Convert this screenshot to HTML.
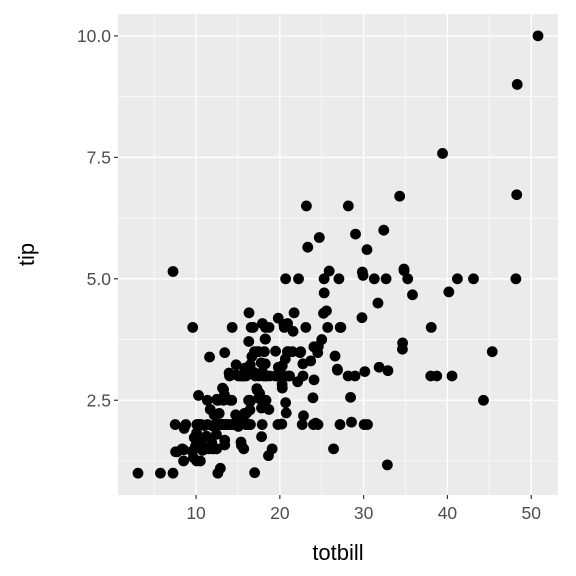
<!DOCTYPE html>
<html><head><meta charset="utf-8"><style>
body{margin:0;background:#fff}
svg{display:block}
text{font-family:"Liberation Sans",sans-serif}
</style></head><body>
<svg id="chart" width="576" height="576"></svg>
<script>
const totbill=[16.99,10.34,21.01,23.68,24.59,25.29,8.77,26.88,15.04,14.78,10.27,35.26,15.42,18.43,14.83,21.58,10.33,16.29,16.97,20.65,17.92,20.29,15.77,39.42,19.82,17.81,13.37,12.69,21.7,19.65,9.55,18.35,15.06,20.69,17.78,24.06,16.31,16.93,18.69,31.27,16.04,17.46,13.94,9.68,30.4,18.29,22.23,32.4,28.55,18.04,12.54,10.29,34.81,9.94,25.56,19.49,38.01,26.41,11.24,48.27,20.29,13.81,11.02,18.29,17.59,20.08,16.45,3.07,20.23,15.01,12.02,17.07,26.86,25.28,14.73,10.51,17.92,27.2,22.76,17.29,19.44,16.66,10.07,32.68,15.98,34.83,13.03,18.28,24.71,21.16,28.97,22.49,5.75,16.32,22.75,40.17,27.28,12.03,21.01,12.46,11.35,15.38,44.3,22.42,20.92,15.36,20.49,25.21,18.24,14.31,14.0,7.25,38.07,23.95,25.71,17.31,29.93,10.65,12.43,24.08,11.69,13.42,14.26,15.95,12.48,29.8,8.52,14.52,11.38,22.82,19.08,20.27,11.17,12.26,18.26,8.51,10.33,14.15,16.0,13.16,17.47,34.3,41.19,27.05,16.43,8.35,18.64,11.87,9.78,7.51,14.07,13.13,17.26,24.55,19.77,29.85,48.17,25.0,13.39,16.49,21.5,12.66,16.21,13.81,17.51,24.52,20.76,31.71,10.59,10.63,50.81,15.81,7.25,31.85,16.82,32.9,17.89,14.48,9.6,34.63,34.65,23.33,45.35,23.17,40.55,20.69,20.9,30.46,18.15,23.1,15.69,19.81,28.44,15.48,16.58,7.56,10.34,43.11,13.0,13.51,18.71,12.74,13.0,16.4,20.53,16.47,26.59,38.73,24.27,12.76,30.06,25.89,48.33,13.27,28.17,12.9,28.15,11.59,7.74,30.14,12.16,13.42,8.58,15.98,13.42,16.27,10.09,20.45,13.28,22.12,24.01,15.69,11.61,10.77,15.53,10.07,12.6,32.83,35.83,29.03,27.18,22.67,17.82,18.78];
const tip=[1.01,1.66,3.5,3.31,3.61,4.71,2.0,3.12,1.96,3.23,1.71,5.0,1.57,3.0,3.02,3.92,1.67,3.71,3.5,3.35,4.08,2.75,2.23,7.58,3.18,2.34,2.0,2.0,4.3,3.0,1.45,2.5,3.0,2.45,3.27,3.6,2.0,3.07,2.31,5.0,2.24,2.54,3.06,1.32,5.6,3.0,5.0,6.0,2.05,3.0,2.5,2.6,5.2,1.56,4.34,3.51,3.0,1.5,1.76,6.73,3.21,2.0,1.98,3.76,2.64,3.15,2.47,1.0,2.01,2.09,1.97,3.0,3.14,5.0,2.2,1.25,3.08,4.0,3.0,2.71,3.0,3.4,1.83,5.0,2.03,5.17,2.0,4.0,5.85,3.0,3.0,3.5,1.0,4.3,3.25,4.73,4.0,1.5,3.0,1.5,2.5,3.0,2.5,3.48,4.08,1.64,4.06,4.29,3.76,4.0,3.0,1.0,4.0,2.55,4.0,3.5,5.07,1.5,1.8,2.92,2.31,1.68,2.5,2.0,2.52,4.2,1.48,2.0,2.0,2.18,1.5,2.83,1.5,2.0,3.25,1.25,2.0,2.0,2.0,2.75,3.5,6.7,5.0,5.0,2.3,1.5,1.36,1.63,1.73,2.0,2.5,2.0,2.74,2.0,2.0,5.14,5.0,3.75,2.61,2.0,3.5,2.5,2.0,2.0,3.0,3.48,2.24,4.5,1.61,2.0,10.0,3.16,5.15,3.18,4.0,3.11,2.0,2.0,4.0,3.55,3.68,5.65,3.5,6.5,3.0,5.0,3.5,2.0,3.5,4.0,1.5,4.19,2.56,2.02,4.0,1.44,2.0,5.0,2.0,2.0,4.0,2.01,2.0,2.5,4.0,3.23,3.41,3.0,2.03,2.23,2.0,5.16,9.0,2.5,6.5,1.1,3.0,1.5,1.44,3.09,2.2,3.48,1.92,3.0,1.58,2.5,2.0,3.0,2.72,2.88,2.0,3.0,3.39,1.47,3.0,1.25,1.0,1.17,4.67,5.92,2.0,2.0,1.75,3.0];
const xTicks=[10,20,30,40,50];
const xTickLabels=["10","20","30","40","50"];
const yTicks=[2.5,5.0,7.5,10.0];
const yTickLabels=["2.5","5.0","7.5","10.0"];

const svg=document.getElementById('chart');
const NS='http://www.w3.org/2000/svg';
const L=118,R=558,T=14,B=495;
const xmin=Math.min(...totbill),xmax=Math.max(...totbill),ymin=Math.min(...tip),ymax=Math.max(...tip);
const xd0=xmin-(xmax-xmin)*0.05,xd1=xmax+(xmax-xmin)*0.05;
const yd0=ymin-(ymax-ymin)*0.05,yd1=ymax+(ymax-ymin)*0.05;
const sx=v=>L+(v-xd0)/(xd1-xd0)*(R-L);
const sy=v=>B-(v-yd0)/(yd1-yd0)*(B-T);
function mk(tag,attrs,parent){const e=document.createElementNS(NS,tag);for(const k in attrs)e.setAttribute(k,attrs[k]);(parent||svg).appendChild(e);return e;}

const panel=mk('rect',{x:L,y:T,width:R-L,height:B-T,fill:'#ebebeb'});


const xm=[],ym=[];
for(let i=0;i<xTicks.length-1;i++)xm.push((xTicks[i]+xTicks[i+1])/2);
xm.unshift(xTicks[0]-(xTicks[1]-xTicks[0])/2);
for(let i=0;i<yTicks.length-1;i++)ym.push((yTicks[i]+yTicks[i+1])/2);
ym.unshift(yTicks[0]-(yTicks[1]-yTicks[0])/2);
xm.forEach(v=>{const g=mk('line',{x1:sx(v),x2:sx(v),y1:T,y2:B,stroke:'#fff','stroke-width':0.6});});
ym.forEach(v=>{const g=mk('line',{x1:L,x2:R,y1:sy(v),y2:sy(v),stroke:'#fff','stroke-width':0.6});});
xTicks.forEach((v,i)=>{
  const g=mk('line',{x1:sx(v),x2:sx(v),y1:T,y2:B,stroke:'#fff','stroke-width':1.3});
  
  
  const t=mk('line',{x1:sx(v),x2:sx(v),y1:B,y2:B+4,stroke:'#333','stroke-width':1.2});
  
  
  const l=mk('text',{x:sx(v),y:B+24,'text-anchor':'middle','font-size':17.5,fill:'#4d4d4d'});
  l.textContent=xTickLabels[i];
  
  
});
yTicks.forEach((v,i)=>{
  const g=mk('line',{x1:L,x2:R,y1:sy(v),y2:sy(v),stroke:'#fff','stroke-width':1.3});
  
  
  const t=mk('line',{x1:L-4,x2:L,y1:sy(v),y2:sy(v),stroke:'#333','stroke-width':1.2});
  
  
  const l=mk('text',{x:L-7,y:sy(v)+6,'text-anchor':'end','font-size':17.5,fill:'#4d4d4d'});
  l.textContent=yTickLabels[i];
  
  
});
totbill.forEach((v,i)=>{
  const c=mk('circle',{cx:sx(v),cy:sy(tip[i]),r:5.4,fill:'#000'});
  
  
});
const xt=mk('text',{x:(L+R)/2,y:560,'text-anchor':'middle','font-size':22,fill:'#000'});
xt.textContent='totbill';


const yt=mk('text',{x:0,y:0,'text-anchor':'middle','font-size':22,fill:'#000',transform:`translate(34,${(T+B)/2}) rotate(-90)`});
yt.textContent='tip';


</script>
</body></html>
